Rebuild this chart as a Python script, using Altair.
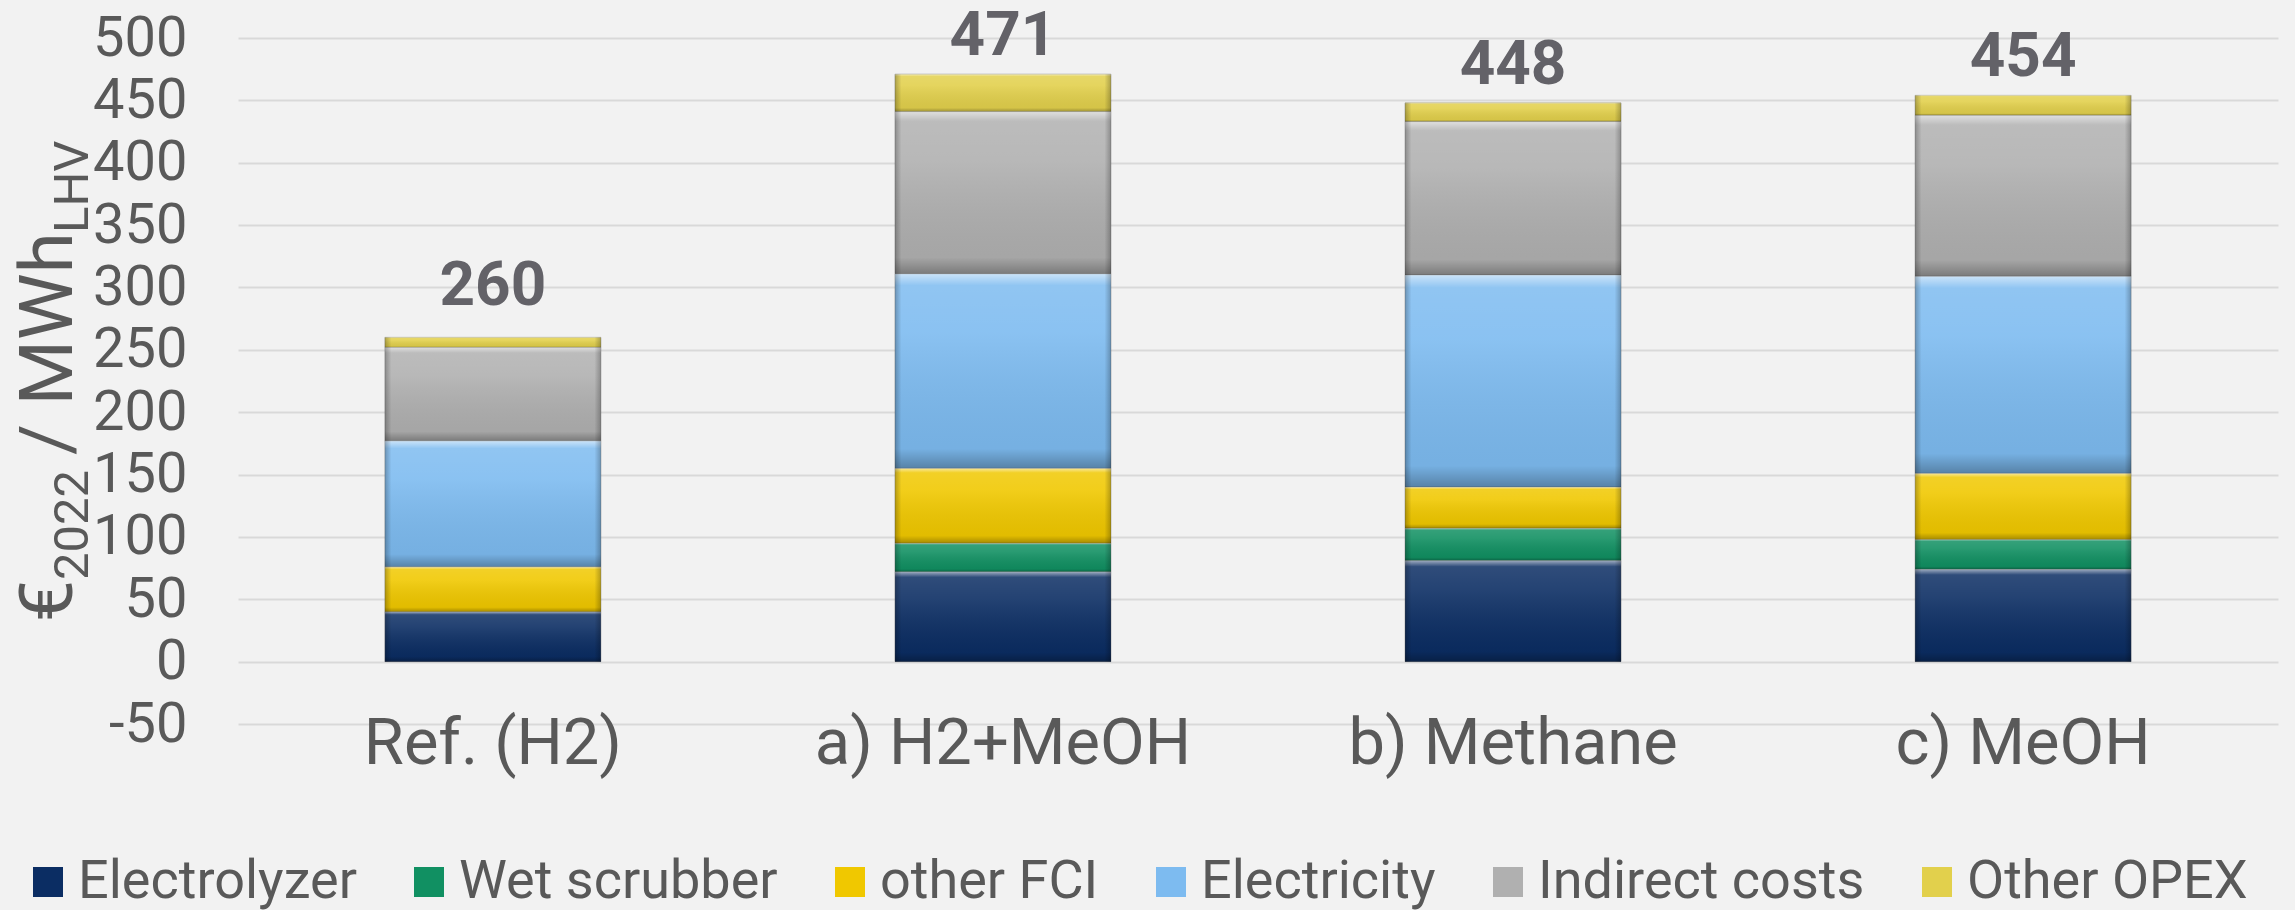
import altair as alt
import pandas as pd

categories = ["Ref. (H2)", "a) H2+MeOH", "b) Methane", "c) MeOH"]
series = ["Electrolyzer", "Wet scrubber", "other FCI", "Electricity", "Indirect costs", "Other OPEX"]
electrolyzer = [40, 72, 81, 74]
wet_scrubber = [0, 23, 26, 24]
other_fci = [36, 60, 33, 53]
electricity = [101, 156, 170, 158]
indirect_costs = [75, 130, 123, 129]
other_opex = [8, 30, 15, 16]
y_ticks = list(range(-50, 501, 50))
colors = ["#0b2d63", "#119062", "#f0c800", "#7dbbf0", "#b0b0b0", "#e2d04c"]

values = [electrolyzer, wet_scrubber, other_fci, electricity, indirect_costs, other_opex]
rows = []
for si, (s, vals) in enumerate(zip(series, values)):
    for c, v in zip(categories, vals):
        rows.append({"category": c, "series": s, "idx": si, "value": v})
df = pd.DataFrame(rows)

FONT = "Roboto"
TXT = "#595959"

xenc = alt.X(
    "category:N", sort=categories,
    scale=alt.Scale(paddingInner=0.5765, paddingOuter=0.288),
    axis=alt.Axis(title=None, labelFontSize=65, labelColor=TXT, labelFont=FONT,
                  labelPadding=39, labelBaseline="alphabetic", domain=False,
                  ticks=False, tickSize=0, labelAngle=0, labelLimit=1000),
)

stacked = alt.Chart(df).transform_filter("datum.value > 0").transform_stack(
    stack="value", as_=["v0", "v1"], groupby=["category"],
    sort=[alt.SortField("idx", order="ascending")],
)

yenc = alt.Y(
    "v1:Q",
    scale=alt.Scale(domain=[-50, 500], nice=False, zero=False),
    axis=alt.Axis(title=None, values=y_ticks, grid=True, gridColor="#d9d9d9",
                  gridWidth=2, labelFontSize=56, labelColor=TXT, labelFont=FONT,
                  labelPadding=51, ticks=False, tickSize=0, domain=False,
                  labelExpr="'' + datum.value"),
)

bars = stacked.mark_bar(stroke="#505050", strokeOpacity=0.35, strokeWidth=1).encode(
    x=xenc, y=yenc, y2="v0:Q",
    color=alt.Color("series:N", sort=series,
                    scale=alt.Scale(domain=series, range=colors),
                    legend=alt.Legend(title=None)),
)

vgrad = alt.Gradient(
    gradient="linear", x1=0, y1=0, x2=0, y2=1,
    stops=[
        alt.GradientStop(color="rgba(255,255,255,0.6)", offset=0),
        alt.GradientStop(color="rgba(255,255,255,0.15)", offset=0.06),
        alt.GradientStop(color="rgba(255,255,255,0.1)", offset=0.3),
        alt.GradientStop(color="rgba(0,0,0,0.06)", offset=0.9),
        alt.GradientStop(color="rgba(0,0,0,0.3)", offset=1),
    ],
)
hgrad = alt.Gradient(
    gradient="linear", x1=0, y1=0, x2=1, y2=0,
    stops=[
        alt.GradientStop(color="rgba(0,0,0,0.25)", offset=0),
        alt.GradientStop(color="rgba(0,0,0,0)", offset=0.03),
        alt.GradientStop(color="rgba(0,0,0,0)", offset=0.97),
        alt.GradientStop(color="rgba(0,0,0,0.25)", offset=1),
    ],
)
shade_v = stacked.mark_bar(color=vgrad).encode(x=xenc, y=yenc, y2="v0:Q", detail="series:N")
shade_h = stacked.mark_bar(color=hgrad).encode(x=xenc, y=yenc, y2="v0:Q", detail="series:N")

totals = alt.Chart(df).transform_aggregate(total="sum(value)", groupby=["category"])
tot_style = dict(font=FONT, fontSize=62, fontWeight="bold", color="#636268",
                 baseline="alphabetic", align="center")
tot_main = totals.transform_filter(alt.datum.category != categories[0]).mark_text(
    dy=-19, **tot_style).encode(x=xenc, y=alt.Y("total:Q"), text=alt.Text("total:Q", format="d"))
tot_ref = totals.transform_filter(alt.datum.category == categories[0]).mark_text(
    dy=-32, **tot_style).encode(x=xenc, y=alt.Y("total:Q"), text=alt.Text("total:Q", format="d"))

def title_piece(txt, size, xpos, ypos):
    return alt.Chart(pd.DataFrame({"t": [txt]})).mark_text(
        font=FONT, fontSize=size, color=TXT, angle=270, align="left",
        baseline="alphabetic",
    ).encode(text="t:N", x=alt.value(xpos), y=alt.value(ypos))

t1 = title_piece("€", 75, -166, 584)
t2 = title_piece("2022", 49, -150, 542)
t3 = title_piece("/ MWh", 75, -166, 417)
t4 = title_piece("LHV", 49, -150, 195)

chart = alt.layer(bars, shade_v, shade_h, tot_main, tot_ref, t1, t2, t3, t4).properties(
    width=2040, height=686,
    padding={"left": 238, "top": 38, "right": 17, "bottom": 186},
    autosize="none",
    background="#f2f2f2",
).configure_view(stroke=None).configure_legend(
    orient="none", legendX=-217, legendY=817, direction="horizontal",
    symbolType="square", symbolSize=900, symbolStrokeWidth=0,
    labelFontSize=54, labelFont=FONT, labelColor=TXT, labelOffset=3,
    columnPadding=45, padding=0, labelLimit=1000, symbolOpacity=1,
)

chart.save("out.html", embed_options={"renderer": "svg", "actions": False})
